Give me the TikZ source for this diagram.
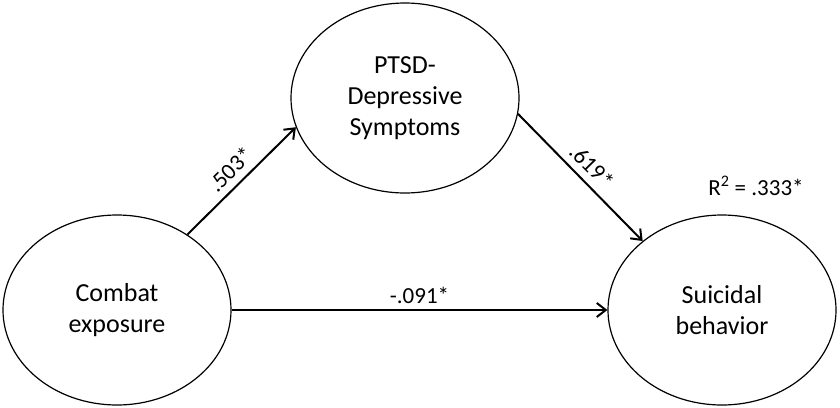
\documentclass[tikz,border=0pt]{standalone}
\usepackage{fontspec}
\setmainfont{Carlito}
\usetikzlibrary{shapes.geometric,arrows.meta}
\begin{document}
\begin{tikzpicture}[x=1pt,y=-1pt,
  latent/.style={ellipse,draw,line width=1.2pt,minimum width=228pt,minimum height=190pt,inner sep=0pt,align=center,font=\fontsize{26}{31}\selectfont},
  path/.style={line width=2pt,-{Straight Barb[length=9pt,width=14pt,line width=2pt]}},
  coef/.style={font=\fontsize{23}{26}\selectfont,inner sep=2pt}]
\useasboundingbox (0,0) rectangle (840,407);
\node[latent] (ce) at (117,310) {Combat\\exposure};
\node[latent] (pd) at (405,98) {PTSD-\\Depressive\\Symptoms};
\node[latent] (sb) at (722,310) {Suicidal\\behavior};
\draw[path] (ce.47) -- node[coef,midway,sloped,above=5pt] {.503*} (pd.195);
\draw[path] (pd.-8) -- node[coef,midway,sloped,above=5pt] {.619*} (sb.139);
\draw[path] (ce.0) -- node[coef,midway,above=3pt] {-.091*} (sb.180);
\node[coef] (r2) at (756,186) {R\textsuperscript{2} = .333*};
\end{tikzpicture}
\end{document}
